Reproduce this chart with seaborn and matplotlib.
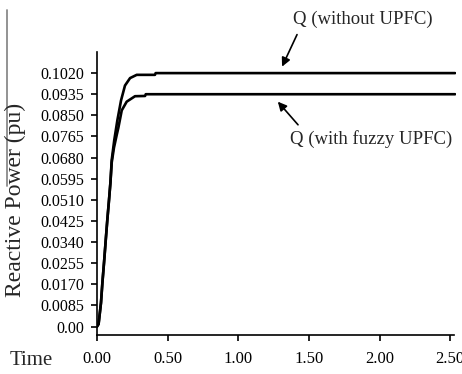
import matplotlib
matplotlib.use("Agg")
import matplotlib.pyplot as plt
import seaborn as sns
import pandas as pd
from matplotlib.lines import Line2D

# Reactive power response (pu) versus time (s)
t_without = [0, 0.011, 0.028, 0.038, 0.050, 0.062, 0.073, 0.085, 0.095, 0.104,
             0.122, 0.144, 0.170, 0.198, 0.234, 0.281, 0.41, 0.415, 2.535]
q_without = [0, 0.001, 0.0095, 0.0176, 0.026, 0.035, 0.043, 0.051, 0.058, 0.067,
             0.075, 0.083, 0.091, 0.097, 0.100, 0.1013, 0.1013, 0.1020, 0.1020]

t_fuzzy = [0, 0.011, 0.028, 0.038, 0.050, 0.062, 0.073, 0.085, 0.095, 0.104,
           0.120, 0.139, 0.151, 0.175, 0.210, 0.269, 0.34, 0.345, 2.535]
q_fuzzy = [0, 0.001, 0.0095, 0.0176, 0.026, 0.035, 0.043, 0.051, 0.058, 0.066,
           0.072, 0.077, 0.080, 0.087, 0.0905, 0.0927, 0.0928, 0.0935, 0.0935]

y_ticks = [0.0, 0.0085, 0.0170, 0.0255, 0.0340, 0.0425, 0.0510, 0.0595,
           0.0680, 0.0765, 0.0850, 0.0935, 0.1020]
y_tick_labels = ["0.00", "0.0085", "0.0170", "0.0255", "0.0340", "0.0425",
                 "0.0510", "0.0595", "0.0680", "0.0765", "0.0850", "0.0935",
                 "0.1020"]
x_ticks = [0.0, 0.5, 1.0, 1.5, 2.0, 2.5]
x_tick_labels = ["0.00", "0.50", "1.00", "1.50", "2.00", "2.50"]

label_without = "Q (without UPFC)"
label_fuzzy = "Q (with fuzzy UPFC)"

sns.set_style("ticks")
plt.rcParams["font.family"] = ["Liberation Serif", "DejaVu Serif"]

fig = plt.figure(figsize=(4.62, 3.74), dpi=100)
ax = fig.add_axes([0.21, 0.1043, 0.7766, 0.7567])

df_without = pd.DataFrame({"t": t_without, "q": q_without})
df_fuzzy = pd.DataFrame({"t": t_fuzzy, "q": q_fuzzy})
sns.lineplot(data=df_without, x="t", y="q", ax=ax, color="black", lw=1.9,
             estimator=None, sort=True)
sns.lineplot(data=df_fuzzy, x="t", y="q", ax=ax, color="black", lw=1.9,
             estimator=None, sort=True)

ax.set_xlim(0, 2.54)
ax.set_ylim(-0.0034, 0.1105)
ax.spines["bottom"].set_bounds(0, 2.525)
for s in ("top", "right"):
    ax.spines[s].set_visible(False)
for s in ("left", "bottom"):
    ax.spines[s].set_linewidth(1.2)
    ax.spines[s].set_color("black")

ax.set_yticks(y_ticks)
ax.set_yticklabels(y_tick_labels, fontsize=11.5)
ax.set_xticks(x_ticks)
ax.set_xticklabels(x_tick_labels, fontsize=12)
ax.tick_params(axis="y", direction="out", length=4.5, width=1.2,
               colors="black", pad=5)
ax.tick_params(axis="x", direction="out", length=4.5, width=1.2,
               colors="black", pad=7)
ax.set_xlabel("")
ax.set_ylabel("")

fig.text(0.033, 0.465, "Reactive Power (pu)", rotation=90, fontsize=17,
         ha="center", va="center")
fig.text(0.067, 0.035, "Time", fontsize=15, ha="center", va="center")

# curve labels with pointer arrows
ax.text(1.88, 0.1236, label_without, fontsize=13.5, ha="center", va="center",
        clip_on=False)
ax.text(1.94, 0.0756, label_fuzzy, fontsize=13.5, ha="center", va="center",
        clip_on=False)
arrow = dict(arrowstyle="-|>", color="black", lw=1.2, mutation_scale=13,
             shrinkA=0, shrinkB=0)
ax.annotate("", xy=(1.31, 0.1046), xytext=(1.416, 0.1175),
            annotation_clip=False, arrowprops=arrow)
ax.annotate("", xy=(1.28, 0.0905), xytext=(1.423, 0.0812),
            annotation_clip=False, arrowprops=arrow)

# thin grey rule along the left edge
fig.add_artist(Line2D([0.016, 0.016], [1 - 10 / 374, 1 - 186 / 374],
                      color="#8a8a8a", lw=1.3))

fig.savefig("out.png", dpi=100)
